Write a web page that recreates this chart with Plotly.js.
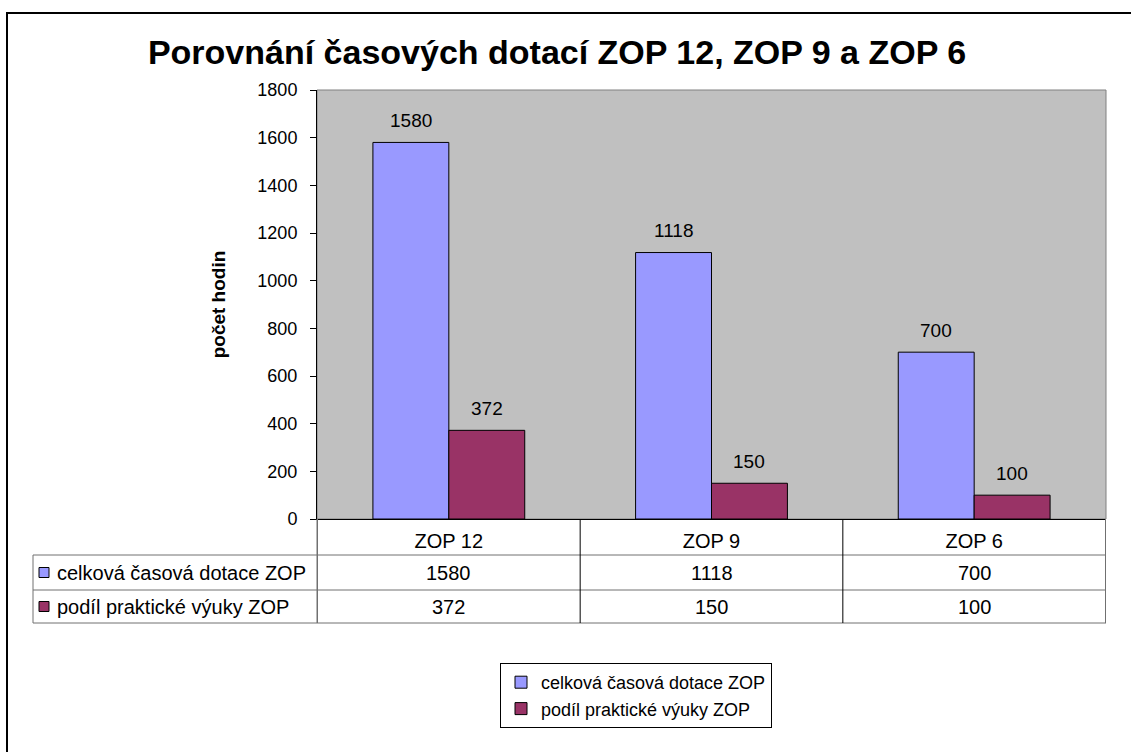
<!DOCTYPE html>
<html><head><meta charset="utf-8">
<script src="https://cdn.plot.ly/plotly-3.0.1.min.js"></script>
<style>html,body{margin:0;padding:0;background:#fff}#chart{width:1131px;height:752px}</style>
</head><body><div id="chart"></div>
<script>
// ---- data ----
const categories = ["ZOP 12", "ZOP 9", "ZOP 6"];
const seriesNames = ["celková časová dotace ZOP", "podíl praktické výuky ZOP"];
const totalHours = [1580, 1118, 700];
const practicalHours = [372, 150, 100];
const chartTitle = "Porovnání časových dotací ZOP 12, ZOP 9 a ZOP 6";
const yTitle = "počet hodin";

// ---- layout helpers ----
const FONT = "Liberation Sans, Arial, sans-serif";
const colors = ["#9999FF", "#993366"];
const L = 317, R = 1106, T = 90, B = 519;
const px = x => (x - L) / (R - L);
const py = y => (B - y) / (B - T);
const series = [totalHours, practicalHours];
const bargap = 0.422;
const barW = (1 - bargap) / series.length;

const traces = series.map((vals, s) => ({
  type: "bar",
  x: categories,
  y: vals,
  name: seriesNames[s],
  marker: {color: colors[s], line: {color: "#000", width: 1}},
  legendgroup: "g" + s,
  hoverinfo: "y"
}));

const annotations = [];
const shapes = [];
// data labels above bars
series.forEach((vals, s) => {
  vals.forEach((v, i) => {
    annotations.push({
      x: i + (s - (series.length - 1) / 2) * barW, xref: "x",
      y: v, yref: "y", yshift: 22, yanchor: "middle",
      text: String(v), showarrow: false,
      font: {family: FONT, size: 19, color: "#000"}
    });
  });
});
// data table
const rowTop = [555, 590];
const rowBot = [590, 623];
series.forEach((vals, s) => {
  const cy = (rowTop[s] + rowBot[s]) / 2;
  vals.forEach((v, i) => {
    annotations.push({
      x: i, xref: "x", y: py(cy), yref: "paper", yanchor: "middle",
      text: String(v), showarrow: false,
      font: {family: FONT, size: 20, color: "#000"}
    });
  });
  annotations.push({
    x: px(55), xref: "paper", xanchor: "left", y: py(cy), yref: "paper", yanchor: "middle",
    text: seriesNames[s], showarrow: false,
    font: {family: FONT, size: 20, color: "#000"}
  });
  shapes.push({
    type: "rect", xref: "paper", yref: "paper",
    x0: px(39), x1: px(49), y0: py(cy - 5), y1: py(cy + 5),
    fillcolor: colors[s], line: {color: "#000", width: 1}
  });
});
// table lines
const gray = "#707070";
[555, 590, 623].forEach(y => shapes.push({
  type: "line", xref: "paper", yref: "paper",
  x0: px(33), x1: 1, y0: py(y), y1: py(y), line: {color: gray, width: 1}
}));
shapes.push({type: "line", xref: "paper", yref: "paper", x0: px(33), x1: px(33), y0: py(555), y1: py(623), line: {color: gray, width: 1}});
shapes.push({type: "line", xref: "paper", yref: "paper", x0: 0, x1: 0, y0: 0, y1: py(623), line: {color: gray, width: 1}});
for (let i = 0; i <= categories.length; i++) {
  const edge = i === 0 || i === categories.length;
  shapes.push({
    type: "line", xref: "x", yref: "paper",
    x0: i - 0.5, x1: i - 0.5, y0: 0, y1: py(623),
    line: {color: edge ? gray : "#000", width: 1}
  });
}
// plot area border (gray)
shapes.push({type: "rect", xref: "paper", yref: "paper", x0: 0, x1: 1, y0: 0, y1: 1, line: {color: "#808080", width: 1}, layer: "below"});
// outer chart border
shapes.push({type: "rect", xref: "paper", yref: "paper", x0: px(7), x1: px(1140), y0: py(13), y1: py(760), line: {color: "#000", width: 2}});

const layout = {
  width: 1131, height: 752,
  margin: {l: L, r: 1131 - R, t: T, b: 752 - B},
  paper_bgcolor: "#fff",
  plot_bgcolor: "#C0C0C0",
  font: {family: FONT, color: "#000"},
  title: {
    text: chartTitle, x: 557 / 1131, xref: "container", xanchor: "center",
    y: 1 - 52 / 752, yref: "container", yanchor: "middle",
    font: {family: FONT, size: 34, weight: "bold", color: "#000"}
  },
  barmode: "group",
  bargap: bargap,
  bargroupgap: 0,
  xaxis: {
    type: "category",
    showline: true, linecolor: "#000", linewidth: 1,
    ticks: "", showgrid: false, zeroline: false,
    tickfont: {family: FONT, size: 20, color: "#000"},
    ticklabelstandoff: 4,
    fixedrange: true
  },
  yaxis: {
    range: [0, 1800], dtick: 200, tick0: 0,
    showline: true, linecolor: "#000", linewidth: 1,
    ticks: "outside", ticklen: 6, tickcolor: "#000",
    ticklabelstandoff: 9,
    showgrid: false, zeroline: false,
    tickfont: {family: FONT, size: 18, color: "#000"},
    title: {text: yTitle, standoff: 26, font: {family: FONT, size: 19, weight: "bold", color: "#000"}},
    fixedrange: true
  },
  showlegend: true,
  legend: {
    x: px(500), y: py(663), xanchor: "left", yanchor: "top",
    bordercolor: "#000", borderwidth: 1, bgcolor: "#fff",
    font: {family: FONT, size: 18, color: "#000"},
    traceorder: "grouped", tracegroupgap: 0,
    itemwidth: 30
  },
  annotations: annotations,
  shapes: shapes
};

Plotly.newPlot("chart", traces, layout, {displayModeBar: false, staticPlot: true});
</script>
</body></html>
